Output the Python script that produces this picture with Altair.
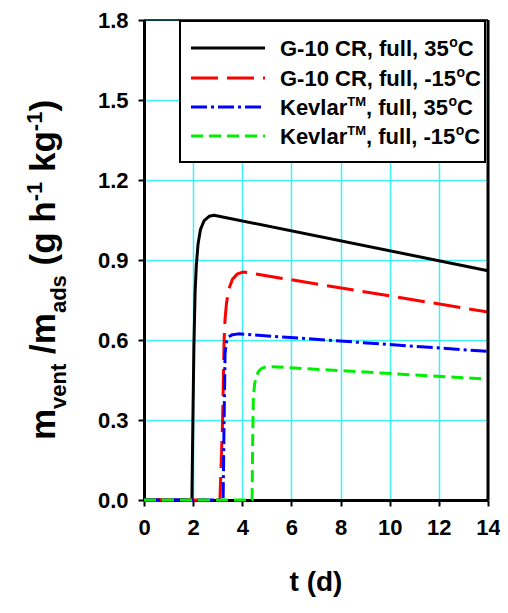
import altair as alt
import pandas as pd

# ---- data ----
t_g10_35 = [0, 1.95, 1.99, 2.03, 2.08, 2.13, 2.2, 2.3, 2.45, 2.65, 2.85, 14]
v_g10_35 = [0, 0, 0.3, 0.57, 0.78, 0.88, 0.96, 1.015, 1.048, 1.064, 1.068, 0.86]

t_g10_m15 = [0, 3.09, 3.2, 3.26, 3.3, 3.36, 3.45, 3.6, 3.8, 4.05, 14]
v_g10_m15 = [0, 0, 0.3, 0.6, 0.68, 0.74, 0.79, 0.828, 0.848, 0.855, 0.705]

t_kev_35 = [0, 3.22, 3.26, 3.3, 3.36, 3.45, 3.6, 3.85, 14]
v_kev_35 = [0, 0, 0.3, 0.55, 0.595, 0.612, 0.62, 0.623, 0.557]

t_kev_m15 = [0, 4.4, 4.42, 4.45, 4.5, 4.57, 4.66, 4.78, 4.95, 5.2, 14]
v_kev_m15 = [0, 0, 0.2, 0.38, 0.435, 0.463, 0.482, 0.493, 0.499, 0.5, 0.453]

x_ticks = [0, 2, 4, 6, 8, 10, 12, 14]
y_ticks = [0.0, 0.3, 0.6, 0.9, 1.2, 1.5, 1.8]

legend_main = ["G-10 CR, full, 35", "G-10 CR, full, -15", "Kevlar", "Kevlar"]
legend_tail = ["", "", ", full, 35", ", full, -15"]

FONT = "Liberation Sans"
W, H = 344, 480
LEFT = 136
TOP = 12

styles = [
    ("black", [1, 0]),
    ("#ff0000", [27, 9]),
    ("#0000ff", [16, 4, 3, 4]),
    ("#00ee00", [12, 6]),
]
series = [
    (t_g10_35, v_g10_35),
    (t_g10_m15, v_g10_m15),
    (t_kev_35, v_kev_35),
    (t_kev_m15, v_kev_m15),
]

# Arial-bold-compatible widths (per 1000 em)
CW = {" ": 278, ",": 278, "-": 333, ".": 278, "/": 278, "(": 333, ")": 333,
      "0": 556, "1": 556, "2": 556, "3": 556, "4": 556, "5": 556, "6": 556,
      "7": 556, "8": 556, "9": 556, "C": 722, "G": 778, "K": 722, "M": 833,
      "R": 722, "T": 611, "a": 556, "d": 611, "e": 556, "f": 333, "g": 611,
      "h": 611, "k": 556, "l": 278, "m": 889, "n": 611, "o": 611, "r": 389,
      "s": 556, "t": 333, "u": 611, "v": 556}


def tw(s, size):
    return sum(CW.get(c, 556) for c in s) * size / 1000.0


one = pd.DataFrame({"k": [0]})


def txt(s, x, y, size, angle=0, align="left", baseline="alphabetic"):
    return alt.Chart(one).mark_text(
        text=s, font=FONT, fontWeight="bold", fontSize=size, align=align,
        baseline=baseline, angle=angle, color="black"
    ).encode(x=alt.value(x), y=alt.value(y))


axis_common = dict(
    grid=True, gridColor="#3ff0f5", gridWidth=1.5,
    domainColor="black", domainWidth=3,
    tickColor="black", tickWidth=2, tickSize=6,
    labelFont=FONT, labelFontSize=22, labelFontWeight="bold", labelColor="black",
    labelFlush=False, labelOverlap=False, title=None,
)
x_enc = alt.X("t:Q", scale=alt.Scale(domain=[0, 14], nice=False, zero=False),
              axis=alt.Axis(values=x_ticks, format="d", labelPadding=11, **axis_common))
y_enc = alt.Y("v:Q", scale=alt.Scale(domain=[0, 1.8], nice=False),
              axis=alt.Axis(values=y_ticks, format=".1f", labelPadding=10, **axis_common))

layers = []
for (tt, vv), (col, dash) in zip(series, styles):
    df = pd.DataFrame({"t": tt, "v": vv})
    mk = dict(color=col, strokeWidth=3, strokeCap="butt", strokeJoin="round")
    if col != "black":
        mk["strokeDash"] = dash
    layers.append(alt.Chart(df).mark_line(**mk).encode(x=x_enc, y=y_enc))

# frame: top thin, right thick
layers.append(alt.Chart(one).mark_rule(color="black", strokeWidth=1.5).encode(
    x=alt.value(0), x2=alt.value(W), y=alt.value(0)))
layers.append(alt.Chart(one).mark_rule(color="black", strokeWidth=3).encode(
    x=alt.value(W), y=alt.value(0), y2=alt.value(H)))

# legend box
LX = 36
layers.append(alt.Chart(one).mark_rect(fill="white", stroke="black", strokeWidth=2).encode(
    x=alt.value(LX), x2=alt.value(W - 3), y=alt.value(1), y2=alt.value(142)))

row_y = [28, 58, 87, 116]
TX = LX + 100
for i, (col, dash) in enumerate(styles):
    mk = dict(color=col, strokeWidth=3, strokeCap="butt")
    if col != "black":
        mk["strokeDash"] = dash
    layers.append(alt.Chart(one).mark_rule(**mk).encode(
        x=alt.value(LX + 11), x2=alt.value(LX + 85), y=alt.value(row_y[i])))
    base = row_y[i] + 8
    x = TX
    layers.append(txt(legend_main[i], x, base, 22))
    x += tw(legend_main[i], 22)
    if legend_tail[i]:
        layers.append(txt("TM", x, base - 9, 13))
        x += tw("TM", 13)
        layers.append(txt(legend_tail[i], x, base, 22))
        x += tw(legend_tail[i], 22)
    layers.append(txt("o", x + 0.5, base - 9, 14))
    x += tw("o", 14) + 0.5
    layers.append(txt("C", x, base, 22))

# y title with sub/superscripts, rotated (leading spaces are advanced, not drawn)
MAIN, SUB = 35, 22
X0 = 55 - 8 - LEFT
pieces = [("m", 0, MAIN), ("vent", 11, SUB), (" /m", 0, MAIN), ("ads", 11, SUB),
          (" (g h", 0, MAIN), ("-1", -13, SUB), (" kg", 0, MAIN), ("-1", -13, SUB),
          (")", 0, MAIN)]
yy = 440 - 8 - TOP
for s, off, size in pieces:
    if s.startswith(" "):
        yy -= tw(" ", size)
        s = s[1:]
    layers.append(txt(s, X0 + off, yy, size, angle=270))
    yy -= tw(s, size)

# x title
layers.append(txt("t (d)", W / 2, 571, 28, align="center"))

chart = alt.layer(*layers).properties(
    width=W, height=H,
    padding={"left": LEFT, "top": TOP, "right": 12, "bottom": 98},
    autosize=alt.AutoSizeParams(type="none"),
    background="white",
).configure_view(stroke=None)

chart.save("out.html", embed_options={"renderer": "svg", "actions": False})
